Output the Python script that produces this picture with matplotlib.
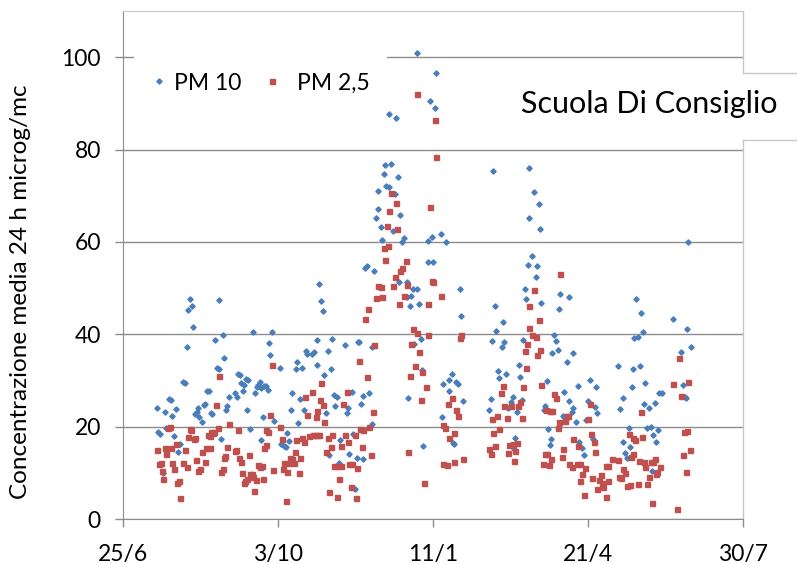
import matplotlib
matplotlib.use('Agg')
import matplotlib.pyplot as plt
from matplotlib.lines import Line2D
from matplotlib.patches import Rectangle

plt.rcParams['font.family'] = ['Lato', 'DejaVu Sans']

series_names = ['PM 10', 'PM 2,5']
tick_days = [0, 100, 200, 300, 400]          # days since 25/6
tick_labels = ['25/6', '3/10', '11/1', '21/4', '30/7']
y_ticks = [0, 20, 40, 60, 80, 100]
title = 'Scuola Di Consiglio'
ylabel = 'Concentrazione media 24 h microg/mc'

pm10_day = [21.9, 22.8, 23.9, 26.0, 27.1, 27.5, 29.9, 30.8, 31.6, 33.1, 34.0, 35.3, 37.0, 38.7, 40.0, 41.5, 41.7, 43.0, 44.3, 45.4,
            46.5, 47.5, 48.2, 49.2, 51.2, 52.3, 52.9, 54.4, 55.7, 56.6, 57.6, 59.6, 60.4, 61.7, 62.2, 63.0, 64.3, 65.4, 66.5, 67.1,
            68.2, 72.3, 73.3, 74.0, 75.3, 76.1, 77.2, 78.1, 79.1, 80.4, 80.0, 82.2, 84.1, 85.2, 86.7, 87.3, 88.2, 89.0, 88.8, 90.3,
            91.0, 92.3, 93.5, 94.4, 95.1, 96.1, 97.4, 101.3, 101.9, 103.9, 104.9, 105.6, 106.9, 108.6, 109.0, 111.4, 112.0, 113.1, 114.2, 115.5,
            116.8, 118.1, 118.9, 122.2, 123.4, 124.9, 125.4, 126.7, 127.5, 128.8, 129.7, 131.0, 132.0, 132.9, 134.2, 135.1, 136.3, 137.8, 137.0, 139.1,
            140.0, 143.4, 144.3, 145.4, 146.0, 147.5, 148.2, 149.5, 150.8, 151.4, 152.3,
            153.3, 154.6, 155.0, 156.1, 157.6, 158.9, 160.4, 160.9, 161.9, 163.0, 164.3, 164.7, 166.2, 167.3, 168.4, 169.0, 169.9, 171.4, 171.6, 173.1,
            174.2, 175.3, 175.9, 177.2, 178.3, 178.9, 180.0, 181.3, 183.0, 183.4, 184.1, 185.2, 185.8, 186.9, 187.5, 189.5, 189.9, 191.2, 192.3, 192.9,
            193.8, 196.6, 196.8, 198.1, 199.4, 199.8, 201.1, 202.2, 205.2, 206.1, 206.2, 208.2, 210.1, 210.5,
            212.0, 213.1, 213.7, 214.6, 215.9, 217.4, 218.1, 219.1, 236.2, 237.2, 238.3, 239.0, 240.2, 240.9, 241.7, 242.8, 244.3, 245.4, 246.0, 247.1,
            248.6, 250.1, 251.4, 253.0, 252.3, 254.0, 255.3, 256.2, 257.5, 258.3, 259.6, 260.0, 261.0, 262.0, 262.2,
            265.2, 268.2, 269.2, 264.1, 267.1, 266.2, 269.9, 282.1, 287.5, 281.0, 278.3, 279.4, 280.4, 277.0, 286.2, 290.3, 273.5, 293.3, 301.3, 304.9,
            284.7, 288.0, 290.5, 289.5, 283.7, 272.5, 271.6, 300.0, 304.5, 306.0, 292.0, 298.5, 274.0, 276.1, 275.3, 294.4, 296.1, 297.6, 303.0,
            364.7, 331.0, 334.0, 355.1, 364.1, 335.3, 329.7, 332.5, 366.2, 360.2, 319.4, 329.3, 333.5, 336.8, 328.2, 322.4, 346.0, 347.5, 343.2, 336.4,
            339.4, 320.9, 361.5, 362.5, 363.2, 326.7, 337.8, 340.4, 345.2, 342.2, 343.9, 322.8, 327.1, 324.1, 324.9, 341.1]
pm10_val = [24.1, 18.9, 18.4, 10.0, 23.1, 19.7, 26.0, 25.7, 22.2, 17.9, 23.9, 14.6, 16.2, 29.6, 29.4, 37.2, 45.2, 47.6, 46.2, 41.6,
            22.8, 23.1, 24.0, 22.1, 20.9, 24.7, 24.9, 27.7, 27.8, 22.9, 22.7, 38.7, 32.7, 32.5, 47.4, 17.4, 39.9, 34.8, 23.6, 24.4,
            26.4, 27.2, 26.4, 31.4, 31.1, 29.5, 27.8, 29.1, 30.3, 30.0, 23.6, 19.5, 40.5, 27.3, 28.6, 29.1, 29.7, 28.3, 17.1, 22.1,
            28.9, 28.7, 27.9, 38.1, 35.6, 40.6, 21.3, 32.8, 16.2, 15.7, 15.5, 18.7, 16.8, 23.6, 27.3, 32.5, 33.9, 20.7, 26.0, 32.7,
            23.7, 36.3, 35.8, 35.8, 36.1, 33.4, 38.8, 50.8, 47.1, 45.0, 31.2, 22.9, 36.4, 13.9, 32.5, 39.0, 26.8, 26.5, 24.5, 12.1,
            17.0, 37.7, 22.9, 24.1, 14.0, 27.6, 18.4, 6.5, 13.2, 38.3, 38.3,
            25.0, 26.6, 13.1, 54.4, 54.8, 27.2, 20.5, 37.2, 53.8, 65.2, 71.0, 67.2, 63.3, 60.4, 74.7, 76.6, 72.2, 71.8, 87.7, 76.8,
            62.3, 70.3, 86.9, 74.1, 51.4, 65.9, 60.0, 60.8, 51.4, 48.1, 26.1, 46.2, 48.2, 49.7, 37.9, 49.7, 100.8, 46.5, 38.9, 32.3,
            15.9, 55.7, 60.1, 90.5, 61.0, 55.7, 89.0, 96.6, 61.8, 22.0, 29.2, 60.0, 30.2, 27.7,
            31.3, 16.5, 16.2, 29.6, 29.2, 49.7, 43.9, 25.5, 23.6, 25.9, 38.5, 75.3, 46.2, 40.8, 32.0, 30.5, 37.3, 42.6, 38.3, 31.3,
            24.1, 25.3, 26.5, 17.5, 15.1, 23.1, 33.3, 30.8, 25.7, 38.7, 49.9, 47.6, 55.1, 76.0, 65.2,
            70.7, 68.3, 62.9, 57.0, 54.8, 52.4, 46.8, 48.8, 48.1, 45.5, 39.8, 38.5, 36.7, 35.9, 34.1, 35.9, 29.9, 28.9, 30.0, 28.6,
            27.5, 25.5, 24.0, 23.1, 22.2, 24.5, 23.6, 25.6, 24.3, 23.0, 21.0, 21.4, 19.5, 17.3, 16.1, 16.7, 15.4, 13.9, 17.4,
            60.0, 47.6, 44.5, 43.4, 41.1, 40.6, 39.2, 39.5, 37.3, 36.1, 33.2, 32.4, 33.2, 29.5, 28.6, 26.3, 27.3, 27.3, 25.2, 24.8,
            24.0, 23.8, 29.1, 26.4, 26.1, 19.8, 19.6, 20.0, 19.3, 18.1, 16.7, 16.6, 15.5, 14.2, 13.3, 10.5]

pm25_day = [22.2, 23.2, 24.5, 25.2, 26.0, 27.1, 27.7, 29.2, 30.3, 31.0, 31.6, 32.7, 34.2, 34.8, 36.1, 37.0, 38.7, 40.0, 41.3, 42.2,
            43.2, 44.1, 45.6, 46.2, 47.1, 48.6, 49.7, 50.8, 52.7, 53.8, 55.1, 56.1, 56.3, 57.0, 58.3, 58.9, 59.8, 61.3, 62.2, 63.0,
            64.3, 65.2, 66.0, 66.9, 68.2, 72.3, 72.9, 74.0, 74.6, 75.9, 76.6, 77.8, 78.9, 79.8, 81.1, 81.9, 83.2, 83.9, 84.7, 85.8,
            87.3, 88.4, 89.5, 90.3, 91.0, 92.5, 92.0, 93.8, 94.8, 95.9, 97.0, 101.5, 102.4, 103.2, 104.1, 104.9, 106.0, 106.9, 108.0, 108.8,
            110.1, 111.0, 111.8, 113.3, 114.4, 115.7, 116.8, 117.6, 118.9, 120.2, 122.2, 122.8, 123.9, 125.4, 126.5, 124.3, 124.9, 127.1, 128.0, 129.2,
            129.9, 131.0, 132.3, 132.9, 134.0, 135.1, 136.3, 137.8, 138.3, 139.1, 140.4, 140.9, 141.9, 143.4, 144.3, 145.2, 146.0, 147.1, 148.0, 149.5,
            150.3, 151.2, 152.0,
            153.0, 154.0, 155.0, 156.1, 157.2, 157.9, 158.9, 160.2, 161.5, 161.9, 163.2, 164.7, 166.2, 167.1, 168.4, 169.0, 170.1, 171.2, 171.8, 172.9,
            174.0, 175.3, 175.9, 177.0, 178.5, 178.3, 179.8, 181.1, 182.4, 183.0, 184.1, 185.2, 185.8, 186.9, 188.4, 189.5, 189.9, 191.2, 192.3, 192.9,
            194.0, 195.3, 196.6, 197.0, 198.1, 199.1, 200.0, 201.1, 202.2, 205.0, 206.2, 206.7, 208.0, 209.2, 209.9, 210.1,
            212.5, 213.5, 213.8, 215.1, 216.3, 217.8, 217.4, 219.1, 236.3, 237.4, 240.0, 238.9, 238.3, 241.0, 242.8, 244.1, 245.4, 246.0, 247.5, 248.2,
            249.2, 250.1, 251.4, 252.9, 252.3, 254.0, 255.1, 256.2, 257.2, 258.3, 260.0, 259.6, 260.9, 261.8, 262.2,
            282.1, 265.2, 268.2, 264.1, 266.4, 269.2, 266.9, 269.9, 277.8, 279.1, 272.9, 275.5, 276.8, 281.0, 280.4, 285.0, 287.3, 286.2, 301.3, 300.0,
            290.1, 283.7, 293.3, 301.9, 303.9, 304.7, 272.0, 273.8, 276.1, 271.0, 275.0, 283.0, 288.0, 289.9, 292.9, 294.8, 298.1, 296.1, 294.8, 302.8,
            307.3, 308.6, 309.0, 306.0, 309.9, 297.6, 311.4, 312.7, 311.8, 312.9,
            358.9, 354.8, 364.7, 360.2, 334.0, 326.2, 329.2, 330.5, 334.8, 361.9, 364.1, 365.8, 361.5, 363.2, 315.5, 319.4, 328.8, 327.9, 333.1, 336.4,
            336.8, 340.4, 342.2, 343.2, 346.4, 344.7, 343.8, 322.4, 323.9, 319.8, 321.1, 325.4, 327.1, 332.3, 338.1, 339.4, 341.1, 357.2]
pm25_val = [15.0, 11.9, 12.1, 10.5, 8.7, 15.3, 14.0, 19.8, 20.0, 15.3, 12.1, 10.9, 16.2, 7.7, 8.2, 4.6, 12.1, 15.0, 11.3, 17.7,
            19.5, 19.2, 17.3, 17.6, 12.7, 10.3, 10.8, 14.4, 12.3, 15.3, 18.1, 18.0, 15.3, 18.9, 18.6, 18.9, 24.6, 19.8, 30.9, 10.1,
            10.8, 13.3, 13.7, 15.5, 20.5, 14.7, 15.0, 19.2, 13.2, 12.3, 9.9, 7.9, 8.2, 8.7, 13.8, 9.7, 9.7, 9.0, 6.1, 8.5,
            11.6, 11.2, 11.5, 8.7, 15.3, 16.0, 19.3, 18.9, 22.6, 33.3, 10.6, 20.0, 17.4, 10.9, 12.1, 4.0, 10.1, 12.2, 13.2, 12.9,
            12.1, 14.4, 17.1, 9.9, 13.2, 17.6, 16.6, 26.5, 22.5, 17.9, 27.5, 18.1, 18.1, 18.1, 18.1, 22.1, 23.4, 25.8, 29.4, 24.6,
            21.0, 14.5, 17.5, 5.9, 15.5, 18.2, 11.4, 11.5, 4.7, 8.7, 11.4, 15.7, 24.9, 18.1, 27.4, 16.6, 12.0, 7.0, 11.9, 18.1,
            4.5, 11.1, 34.3,
            19.5, 15.5, 19.3, 43.4, 30.8, 45.4, 20.0, 13.9, 23.2, 37.7, 47.9, 50.5, 50.3, 48.1, 58.6, 56.1, 63.5, 59.2, 66.7, 70.5,
            50.4, 52.3, 68.5, 62.8, 53.6, 46.5, 54.3, 48.3, 55.8, 50.6, 14.4, 31.0, 37.9, 41.1, 33.2, 40.2, 92.0, 36.2, 25.8, 31.8,
            7.9, 28.5, 46.5, 39.9, 67.5, 51.6, 51.4, 86.4, 78.4, 48.3, 20.3, 12.0, 19.8, 11.7, 25.0, 17.5,
            26.1, 18.7, 12.4, 23.6, 22.2, 39.9, 39.1, 12.9, 15.1, 14.0, 15.8, 18.7, 21.6, 22.3, 19.4, 27.3, 28.9, 24.5, 21.9, 14.2,
            16.0, 24.5, 16.2, 14.7, 12.6, 16.5, 24.5, 25.4, 21.9, 28.5, 32.6, 36.4, 37.9, 41.4, 46.2,
            53.0, 49.6, 43.1, 39.8, 39.5, 36.5, 35.5, 29.0, 27.1, 26.3, 23.7, 23.4, 23.4, 21.1, 19.8, 21.3, 22.4, 22.4, 25.0, 21.6,
            17.4, 15.2, 15.8, 18.5, 16.7, 14.4, 14.0, 14.0, 12.9, 12.0, 11.8, 13.5, 11.9, 11.2, 11.9, 11.9, 11.1, 9.8, 8.3, 8.9,
            8.4, 9.5, 7.7, 6.4, 7.0, 5.3, 11.5, 11.5, 4.8, 8.2,
            34.8, 29.3, 29.7, 26.6, 23.2, 18.5, 17.5, 17.1, 17.7, 18.9, 19.1, 14.9, 13.8, 10.1, 13.0, 12.8, 14.0, 13.5, 12.6, 12.3,
            11.2, 12.3, 12.3, 12.9, 11.3, 10.1, 9.7, 10.9, 9.9, 9.2, 8.8, 7.2, 7.4, 7.5, 7.5, 9.1, 3.5, 2.1]

blue = '#4a7ebb'
red = '#c0504d'
grid_c = '#8c8c8c'
light_c = '#c8c8c8'

W, H = 797, 564
fig = plt.figure(figsize=(W / 100, H / 100), dpi=100)
ax = fig.add_axes([123 / W, 45 / H, 620 / W, 508 / H])
ax.set_xlim(tick_days[0], tick_days[-1])
ax.set_ylim(0, 110)

ax.plot(pm10_day, pm10_val, linestyle='none', marker='D', ms=2.7, color=blue, mec=blue, zorder=3)
ax.plot(pm25_day, pm25_val, linestyle='none', marker='s', ms=3.6, color=red, mec=red, zorder=4)

ax.set_yticks(y_ticks)
ax.set_xticks(tick_days)
ax.set_xticklabels(tick_labels)
ax.yaxis.grid(True, color=grid_c, lw=1)
ax.set_axisbelow(True)
ax.tick_params(axis='both', direction='out', length=6, width=1, color=grid_c, labelsize=16.5, labelcolor='black')
ax.tick_params(axis='y', pad=10)
ax.tick_params(axis='x', pad=12)

for s in ['left', 'bottom']:
    ax.spines[s].set_color(grid_c)
ax.spines['top'].set_color(light_c)
ax.spines['right'].set_visible(False)

# broken right border and title box edges
yb1 = (519 - 140) / 508
yb2 = (519 - 73) / 508
xr = (797 - 123) / 620
for ys in ([0, yb1], [yb2, 1]):
    ax.plot([1, 1], ys, transform=ax.transAxes, color=light_c, lw=1, clip_on=False, zorder=1)
for yy in (yb1, yb2):
    ax.plot([1, xr], [yy, yy], transform=ax.transAxes, color=light_c, lw=1, clip_on=False, zorder=1)

# white legend area hiding the gridline
ax.add_patch(Rectangle(((134 - 123) / 620, (519 - 102) / 508), (387 - 134) / 620, 52 / 508,
                       transform=ax.transAxes, facecolor='white', edgecolor='none', zorder=1))

h1 = Line2D([], [], linestyle='none', marker='D', ms=2.7, color=blue)
h2 = Line2D([], [], linestyle='none', marker='s', ms=3.6, color=red)
ly = (519 - 83) / 508
leg1 = ax.legend([h1], [series_names[0]], loc='center left', bbox_to_anchor=((147.5 - 123) / 620, ly),
                 frameon=False, fontsize=16.5, handlelength=1.0, handletextpad=0.15, borderpad=0, borderaxespad=0)
ax.add_artist(leg1)
ax.legend([h2], [series_names[1]], loc='center left', bbox_to_anchor=((260.5 - 123) / 620, ly),
          frameon=False, fontsize=16.5, handlelength=1.0, handletextpad=0.6, borderpad=0, borderaxespad=0)

fig.text(521 / W, 1 - 113 / H, title, fontsize=22, ha='left', va='baseline')
fig.text(21 / W, 1 - 292 / H, ylabel, fontsize=17.5, rotation=90, ha='center', va='center')

fig.savefig('out.png', dpi=100)
